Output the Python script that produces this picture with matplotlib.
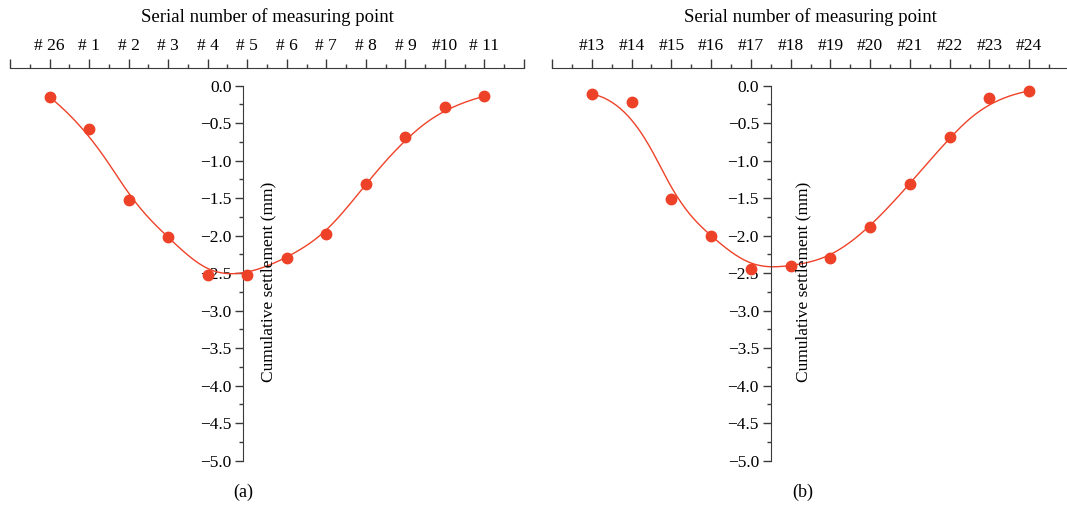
import numpy as np
import matplotlib
matplotlib.use('Agg')
import matplotlib.pyplot as plt
from matplotlib.ticker import MultipleLocator, FixedLocator

# measured cumulative settlement (mm) along the two survey lines
labels_a = ['# 26', '# 1', '# 2', '# 3', '# 4', '# 5', '# 6', '# 7', '# 8', '# 9', '#10', '# 11']
settle_a = [-0.15, -0.58, -1.52, -2.02, -2.52, -2.52, -2.30, -1.98, -1.31, -0.69, -0.28, -0.14]

labels_b = ['#13', '#14', '#15', '#16', '#17', '#18', '#19', '#20', '#21', '#22', '#23', '#24']
settle_b = [-0.11, -0.22, -1.51, -2.01, -2.44, -2.41, -2.30, -1.89, -1.31, -0.68, -0.17, -0.07]

yticks = np.arange(-5.0, 0.01, 0.5)

RED = '#EE4228'
AXC = '#3a3a3a'

plt.rcParams['font.family'] = ['Liberation Serif', 'DejaVu Serif']
plt.rcParams['font.size'] = 12.5


def bspline(xs, ys, k=3, num=400):
    # clamped cubic B-spline using the data points as control points
    xs = np.asarray(xs, float)
    ys = np.asarray(ys, float)
    n = len(xs)
    knots = np.concatenate([np.zeros(k), np.arange(n - k + 1), np.full(k, n - k)]).astype(float)
    t = np.linspace(0, n - k, num)
    m = len(knots) - 1
    B = np.zeros((num, m))
    for i in range(m):
        B[:, i] = (knots[i] <= t) & (t < knots[i + 1])
    last = max(i for i in range(m) if knots[i] < knots[i + 1])
    B[-1, :] = 0
    B[-1, last] = 1
    for d in range(1, k + 1):
        Bn = np.zeros((num, m - d))
        for i in range(m - d):
            a = knots[i + d] - knots[i]
            b = knots[i + d + 1] - knots[i + 1]
            if a > 0:
                Bn[:, i] += (t - knots[i]) / a * B[:, i]
            if b > 0:
                Bn[:, i] += (knots[i + d + 1] - t) / b * B[:, i + 1]
        B = Bn
    return B @ xs, B @ ys


def fmt(v):
    s = '%.1f' % abs(v)
    return s if abs(v) < 1e-9 else '\u2212' + s


def panel(ax, labels, vals, spine_x, ylab_x):
    x = np.arange(len(labels))
    cx, cy = bspline(x, vals)
    ax.plot(cx, cy, color=RED, lw=1.0, zorder=2)
    ax.plot(x, vals, 'o', color=RED, ms=7.5, zorder=3)

    ax.set_xlim(-1, len(labels))
    ax.set_ylim(-5.0, 0.232)

    for s in ['bottom', 'right']:
        ax.spines[s].set_visible(False)
    ax.spines['top'].set_color(AXC)
    ax.spines['left'].set_color(AXC)
    ax.spines['left'].set_position(('data', spine_x))
    ax.spines['left'].set_bounds(-5.0, 0.0)

    ax.xaxis.tick_top()
    ax.xaxis.set_major_locator(FixedLocator(np.arange(-1, len(labels) + 1)))
    ax.xaxis.set_minor_locator(MultipleLocator(0.5))
    ax.set_xticklabels([''] + labels + [''])
    ax.tick_params(axis='x', which='major', direction='out', length=6.5, width=1, color=AXC, pad=4)
    ax.tick_params(axis='x', which='minor', direction='out', length=3.2, width=1, color=AXC)

    ax.yaxis.set_minor_locator(MultipleLocator(0.25))
    ax.set_yticks(yticks)
    ax.set_yticklabels([fmt(v) for v in yticks])
    ax.tick_params(axis='y', which='major', direction='out', length=5.5, width=1, color=AXC, pad=3)
    ax.tick_params(axis='y', which='minor', direction='out', length=3, width=1, color=AXC)

    ax.text(ylab_x, -2.62, 'Cumulative settlement (mm)', rotation=90,
            ha='center', va='center', fontsize=12.5)
    ax.patch.set_visible(False)


fig = plt.figure(figsize=(10.67, 5.13), dpi=100)
ax1 = fig.add_axes([10 / 1067, 0.1019, 514 / 1067, 0.765])
ax2 = fig.add_axes([552 / 1067, 0.1019, 517 / 1067, 0.765])

panel(ax1, labels_a, settle_a, 4.9, 5.53)
panel(ax2, labels_b, settle_b, 4.5, 5.33)

fig.text(267 / 1067, 1 - 17 / 513, 'Serial number of measuring point', ha='center', va='center', fontsize=13.5)
fig.text(810 / 1067, 1 - 17 / 513, 'Serial number of measuring point', ha='center', va='center', fontsize=13.5)
fig.text(243 / 1067, 1 - 492 / 513, '(a)', ha='center', va='center', fontsize=13)
fig.text(803 / 1067, 1 - 492 / 513, '(b)', ha='center', va='center', fontsize=13)

fig.savefig('out.png', dpi=100)
